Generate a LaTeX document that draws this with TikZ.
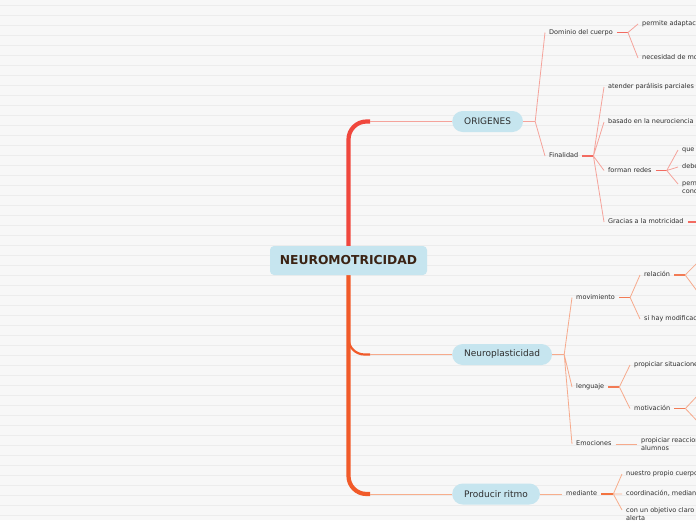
\documentclass[tikz,border=0pt]{standalone}
\usepackage{fontspec}
\setmainfont{DejaVu Sans}
\usetikzlibrary{positioning,calc,backgrounds}
\definecolor{bg}{HTML}{F7F7F7}
\definecolor{rule}{HTML}{ECECEC}
\definecolor{bubble}{HTML}{C6E5EF}
\definecolor{ink}{HTML}{2E2E2E}
\definecolor{rootink}{HTML}{3B2314}
\definecolor{trunkA}{HTML}{F0473D}
\definecolor{trunkB}{HTML}{F15A29}
\definecolor{linkA}{HTML}{F5A39B}
\definecolor{forkA}{HTML}{F26B61}
\definecolor{linkB}{HTML}{F6AA8C}
\definecolor{forkB}{HTML}{F27B55}
\definecolor{linkC}{HTML}{F7AE8C}
\definecolor{forkC}{HTML}{F3733F}

\begin{document}
\begin{tikzpicture}[x=1pt, y=-1pt,
  root/.style={fill=bubble, rounded corners=4pt, minimum width=157pt, minimum height=29pt, inner sep=0pt, font=\fontsize{12.3}{14}\selectfont\bfseries, text=rootink},
  topic/.style={fill=bubble, rounded corners=10.5pt, minimum height=21pt, inner xsep=12pt, inner ysep=0pt, anchor=west, font=\fontsize{9}{11}\selectfont, text=ink},
  lbl/.style={anchor=west, inner xsep=4pt, inner ysep=1pt, text height=5pt, text depth=1.5pt, font=\fontsize{6.5}{8}\selectfont, text=ink},
  lbltwo/.style={anchor=west, inner xsep=4pt, inner ysep=1pt, align=left, font=\fontsize{6.5}{8}\selectfont, text=ink},
  trunk/.style={line width=4.2pt, rounded corners=18pt},
  twig/.style={line width=1pt}, thin/.style={line width=0.8pt}, fork/.style={line width=1.8pt}]
  \useasboundingbox (0,0) rectangle (696,520);

  \node[root] (root) at (348.5,260.5) {NEUROMOTRICIDAD};
  \node[topic] (orig) at (452,121.5) {ORIGENES};
  \node[topic] (neuro) at (452,354.5) {Neuroplasticidad};
  \node[topic] (prod) at (452,494) {Producir ritmo};
  \coordinate (eO) at (370,121.5);
  \coordinate (eN) at (370,354.5);
  \coordinate (eP) at (370,494);
  \begin{scope}[on background layer]
    \fill[bg] (0,0) rectangle (696,520);
    \foreach \k in {0,...,51} \draw[rule, line width=0.8pt] (0,{5+10*\k}) -- (696,{5+10*\k});
    \draw[trunk, trunkA] (root.center) |- (eO);
    \draw[trunk, trunkB] (root.center) |- (eP);
    \draw[trunkB, line width=2.2pt, rounded corners=16pt] (root.center) |- (eN);
  \end{scope}
  \draw[twig, linkA] (eO) -- (orig);
  \draw[twig, linkB] (eN) -- (neuro);
  \draw[twig, linkC] (eP) -- (prod);

  \node[lbl] (dom) at (545,32.5) {Dominio del cuerpo};
  \node[lbl] (fin) at (545,156) {Finalidad};
  \coordinate[right=12pt of orig] (fO);
  \draw[twig, linkA] (orig) -- (fO);
  \draw[thin, linkA] (fO) -- (dom.west) (fO) -- (fin.west);

  \node[lbl] (pa) at (638,24) {permite adaptac};
  \node[lbl] (nm) at (638,58) {necesidad de mo};
  \coordinate[right=11pt of dom] (fD);
  \draw[fork, forkA] (dom) -- (fD);
  \draw[thin, linkA] (fD) -- (pa.west) (fD) -- (nm.west);

  \node[lbl] (at) at (604,87) {atender parálisis parciales};
  \node[lbl] (bn) at (604,122) {basado en la neurociencia};
  \node[lbl] (fr) at (604,170.5) {forman redes};
  \node[lbl] (gr) at (604,222) {Gracias a la motricidad};
  \coordinate[right=11pt of fin] (fF);
  \draw[fork, forkA] (fin) -- (fF);
  \draw[thin, linkA] (fF) -- (at.west) (fF) -- (bn.west) (fF) -- (fr.west) (fF) -- (gr.west);
  \coordinate (grx) at (700,222);
  \draw[fork, forkA] (gr) -- (grx);

  \node[lbl] (que) at (678,150) {que};
  \node[lbl] (debe) at (678,167) {debe};
  \node[lbltwo] (perm) at (678,188) {perm\\conc};
  \coordinate[right=11pt of fr] (fR);
  \draw[fork, forkA] (fr) -- (fR);
  \draw[thin, linkA] (fR) -- (que.west) (fR) -- (debe.west) (fR) -- ($(perm.west)+(0,-4)$);

  \node[lbl] (mov) at (572,297.5) {movimiento};
  \node[lbl] (len) at (572,387) {lenguaje};
  \node[lbl] (emo) at (572,444) {Emociones};
  \coordinate[right=12pt of neuro] (fN);
  \draw[twig, linkB] (neuro) -- (fN);
  \draw[thin, linkB] (fN) -- (mov.west) (fN) -- (len.west) (fN) -- (emo.west);

  \node[lbl] (rel) at (640,275) {relación};
  \node[lbl] (shm) at (640,319) {si hay modificac};
  \coordinate[right=11pt of mov] (fM);
  \draw[fork, forkB] (mov) -- (fM);
  \draw[thin, linkB] (fM) -- (rel.west) (fM) -- (shm.west);
  \coordinate[right=11pt of rel] (fRel);
  \coordinate (relA) at (700,260);
  \coordinate (relB) at (700,295);
  \draw[fork, forkB] (rel) -- (fRel);
  \draw[thin, linkB] (fRel) -- (relA) (fRel) -- (relB);

  \node[lbl] (ps) at (630,365) {propiciar situacione};
  \node[lbl] (mot) at (630,408.5) {motivación};
  \coordinate[right=11pt of len] (fL);
  \draw[fork, forkB] (len) -- (fL);
  \draw[thin, linkB] (fL) -- (ps.west) (fL) -- (mot.west);
  \coordinate[right=11pt of mot] (fMo);
  \coordinate (motA) at (700,393);
  \coordinate (motB) at (700,424);
  \draw[fork, forkB] (mot) -- (fMo);
  \draw[thin, linkB] (fMo) -- (motA) (fMo) -- (motB);

  \node[lbltwo] (pr) at (637,444) {propiciar reaccion\\alumnos};
  \draw[twig, linkB] (emo) -- (pr);

  \node[lbl] (med) at (562,494) {mediante};
  \draw[twig, linkC] (prod) -- (med);
  \node[lbl] (npc) at (622,474) {nuestro propio cuerpo};
  \node[lbl] (cm) at (622,494) {coordinación, median};
  \node[lbltwo] (cob) at (622,514) {con un objetivo claro\\alerta};
  \coordinate[right=12pt of med] (fMe);
  \draw[fork, forkC] (med) -- (fMe);
  \draw[thin, linkC] (fMe) -- (npc.west) (fMe) -- (cm.west) (fMe) -- ($(cob.west)+(0,-4)$);
\end{tikzpicture}
\end{document}
